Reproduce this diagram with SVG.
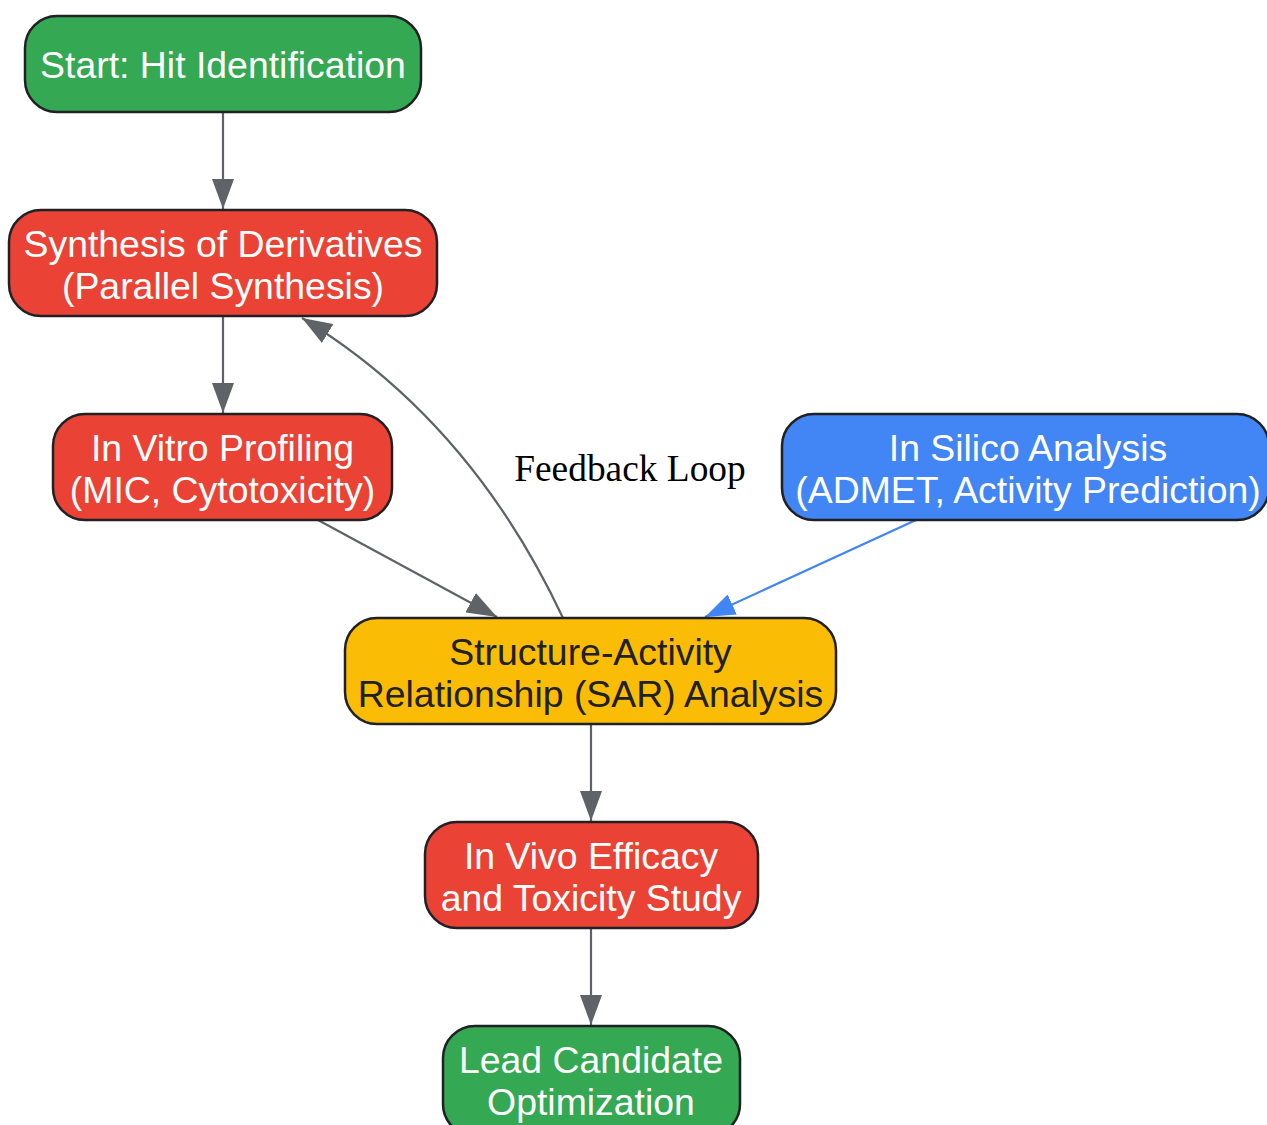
<svg xmlns="http://www.w3.org/2000/svg" width="1267" height="1125" viewBox="0 0 1267 1125">
<style>
.node rect{stroke:#202124;stroke-width:2.5}
.green rect{fill:#34A853}
.red rect{fill:#EA4335}
.yellow rect{fill:#FBBC05}
.blue rect{fill:#4285F4}
.node text{font-family:"Liberation Sans",Arial,sans-serif;font-size:37.4px;text-anchor:middle;fill:#FFFFFF}
.yellow text{fill:#202124}
.edge{fill:none;stroke:#5F6368;stroke-width:2.2}
.edge.b{stroke:#4285F4}
.lbl{font-family:"Liberation Serif","Times New Roman",serif;font-size:37.4px;text-anchor:middle;fill:#000}
</style>
<defs>
<marker id="ah" markerUnits="userSpaceOnUse" markerWidth="30" markerHeight="22" refX="30" refY="11" orient="auto"><path d="M0,0 L30,11 L0,22 z" fill="#5F6368"/></marker>
<marker id="ahb" markerUnits="userSpaceOnUse" markerWidth="30" markerHeight="22" refX="30" refY="11" orient="auto"><path d="M0,0 L30,11 L0,22 z" fill="#4285F4"/></marker>
</defs>
<rect width="1267" height="1125" fill="#FFFFFF"/>
<g id="connectors">
<line class="edge" x1="223" y1="112" x2="223" y2="209" marker-end="url(#ah)"/>
<line class="edge" x1="223" y1="316" x2="223" y2="413" marker-end="url(#ah)"/>
<line class="edge" x1="318" y1="520" x2="497" y2="617" marker-end="url(#ah)"/>
<line class="edge b" x1="916" y1="520" x2="705" y2="617" marker-end="url(#ahb)"/>
<path class="edge" d="M563,618 Q470,420 302,318" marker-end="url(#ah)"/>
<line class="edge" x1="591" y1="724" x2="591" y2="821" marker-end="url(#ah)"/>
<line class="edge" x1="591" y1="928" x2="591" y2="1025" marker-end="url(#ah)"/>
<text class="lbl" x="630" y="481">Feedback Loop</text>
</g>
<g id="start" class="node green"><rect x="25" y="16" width="396" height="96" rx="32"/><text x="223" y="78">Start: Hit Identification</text></g>
<g id="synthesis" class="node red"><rect x="9" y="210" width="428" height="106" rx="32"/><text x="223" y="257">Synthesis of Derivatives</text><text x="223" y="299">(Parallel Synthesis)</text></g>
<g id="invitro" class="node red"><rect x="53" y="414" width="339" height="106" rx="32"/><text x="222.5" y="461">In Vitro Profiling</text><text x="222.5" y="503">(MIC, Cytotoxicity)</text></g>
<g id="insilico" class="node blue"><rect x="782" y="414" width="487" height="106" rx="32"/><text x="1028" y="461">In Silico Analysis</text><text x="1028" y="503">(ADMET, Activity Prediction)</text></g>
<g id="sar" class="node yellow"><rect x="345" y="618" width="491" height="106" rx="32"/><text x="590.5" y="665">Structure-Activity</text><text x="590.5" y="707">Relationship (SAR) Analysis</text></g>
<g id="invivo" class="node red"><rect x="425" y="822" width="333" height="106" rx="32"/><text x="591" y="869">In Vivo Efficacy</text><text x="591" y="911">and Toxicity Study</text></g>
<g id="lead" class="node green"><rect x="443" y="1026" width="297" height="110" rx="32"/><text x="591" y="1073">Lead Candidate</text><text x="591" y="1115">Optimization</text></g>
</svg>
